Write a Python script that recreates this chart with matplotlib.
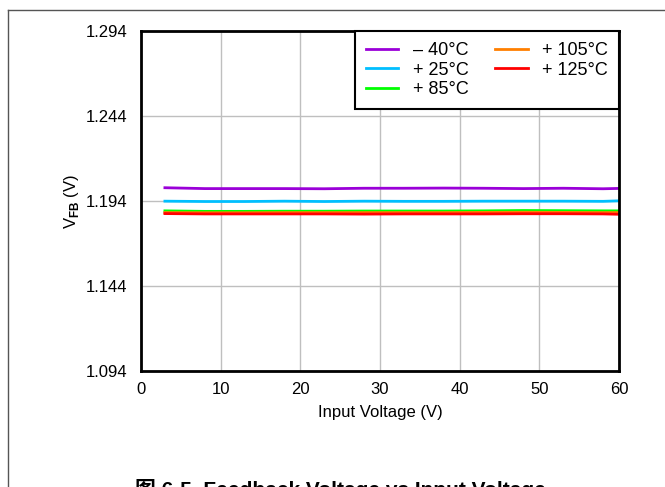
import matplotlib
matplotlib.use("Agg")
import matplotlib.pyplot as plt
from matplotlib.lines import Line2D

plt.rcParams['font.family'] = ['Liberation Sans', 'Noto Sans CJK SC', 'DejaVu Sans']
plt.rcParams['mathtext.fontset'] = 'custom'
plt.rcParams['mathtext.rm'] = 'Liberation Sans'
plt.rcParams['mathtext.bf'] = 'Liberation Sans:bold'

vin = [3, 8, 13, 18, 23, 28, 33, 38, 43, 48, 53, 58, 60]
v_m40 = [1.2018, 1.2013, 1.2013, 1.2013, 1.2012, 1.2015, 1.2015, 1.2016, 1.2015, 1.2013, 1.2015, 1.2012, 1.2014]
v_25 = [1.1939, 1.1937, 1.1937, 1.1939, 1.1937, 1.1939, 1.1938, 1.1938, 1.1939, 1.1939, 1.1939, 1.1938, 1.1941]
v_85 = [1.1882, 1.1879, 1.1879, 1.1880, 1.1880, 1.1881, 1.1881, 1.1881, 1.1882, 1.1884, 1.1883, 1.1882, 1.1882]
v_105 = [1.1872, 1.1871, 1.1871, 1.1872, 1.1872, 1.1872, 1.1872, 1.1872, 1.1873, 1.1874, 1.1873, 1.1872, 1.1872]
v_125 = [1.1866, 1.1864, 1.1864, 1.1864, 1.1864, 1.1863, 1.1864, 1.1864, 1.1864, 1.1865, 1.1865, 1.1864, 1.1862]

labels = ['– 40°C', '+ 25°C', '+ 85°C', '+ 105°C', '+ 125°C']
colors = ['#9A00D8', '#00BFFF', '#00FF00', '#FF7F00', '#FF0000']
series = [v_m40, v_25, v_85, v_105, v_125]

yticks = [1.094, 1.144, 1.194, 1.244, 1.294]
xticks = [0, 10, 20, 30, 40, 50, 60]

fig = plt.figure(figsize=(6.65, 4.87), dpi=100)
ax = fig.add_axes([141/665, 1 - 371/487, (619-141)/665, (371-31)/487])

for ys, c, lab in zip(series, colors, labels):
    ax.plot(vin, ys, color=c, lw=2.0, label=lab)

ax.set_xlim(0, 60)
ax.set_ylim(1.094, 1.294)
ax.set_xticks(xticks)
ax.set_yticks(yticks)
ax.set_yticklabels([f'{v:.3f}' for v in yticks])
ax.grid(True, color='#bfbfbf', lw=1.0)
ax.set_axisbelow(True)
ax.tick_params(length=0, labelsize=12, pad=10)
ax.tick_params(axis='x', pad=8)
for s in ax.spines.values():
    s.set_linewidth(2.0)
    s.set_color('black')

ax.set_xlabel('Input Voltage (V)', fontsize=12, labelpad=6)
ax.set_ylabel(r'V$_{\mathbf{FB}}$ (V)', fontsize=12, labelpad=3)

leg = ax.legend(loc='upper right', ncol=2, fontsize=13, frameon=True, fancybox=False,
                edgecolor='black', framealpha=1, borderaxespad=0, handlelength=1.8,
                handletextpad=0.8, columnspacing=1.5, labelspacing=0.15, borderpad=0.6)
leg.get_frame().set_linewidth(1.5)

# outer frame lines
fig.add_artist(Line2D([8/665, 8/665], [0, 1 - 10/487], color='#555555', lw=1.0, transform=fig.transFigure))
fig.add_artist(Line2D([8/665, 1], [1 - 10/487, 1 - 10/487], color='#555555', lw=1.0, transform=fig.transFigure))

fig.text(340/665, 1 - 490/487, '图 6-5. Feedback Voltage vs Input Voltage', ha='center', va='center',
         fontsize=15, fontweight='bold')

fig.savefig('out.png', dpi=100)
